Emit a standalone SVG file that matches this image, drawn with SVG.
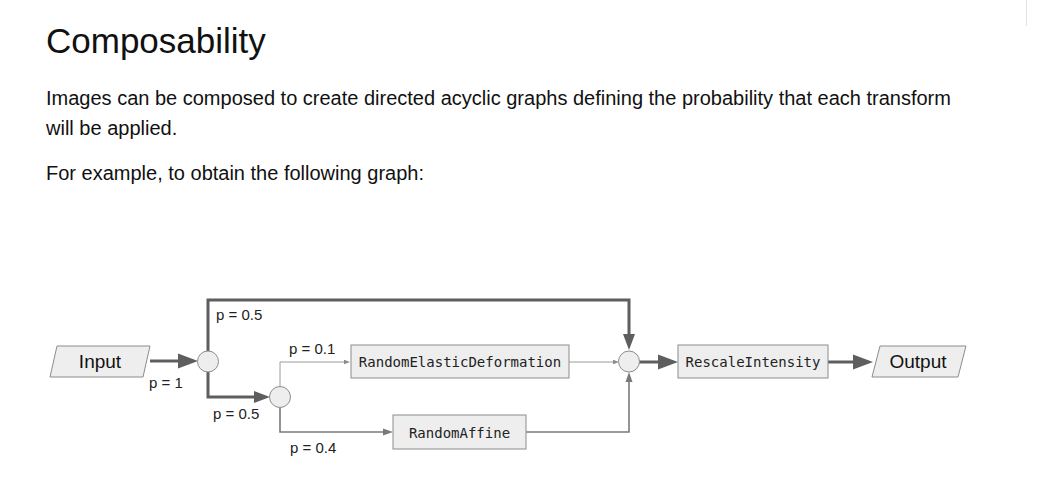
<svg xmlns="http://www.w3.org/2000/svg" width="1046" height="490" viewBox="0 0 1046 490">
<style>
  .h1 { font-family: "Liberation Sans", Arial, sans-serif; font-size: 35px; fill: #111; }
  .para { font-family: "Liberation Sans", Arial, sans-serif; font-size: 20px; fill: #111; }
  .lbl { font-family: "Liberation Sans", Arial, sans-serif; font-size: 15px; fill: #222; }
  .io { font-family: "Liberation Sans", Arial, sans-serif; font-size: 19px; fill: #111; text-anchor: middle; }
  .mono { font-family: "DejaVu Sans Mono", "Liberation Mono", monospace; font-size: 14px; fill: #222; text-anchor: middle; }
  .shape { fill: #eeeeee; stroke: #8c8c8c; stroke-width: 1; }
  .thick { fill: none; stroke: #5e5e5e; stroke-width: 3; }
  .mid { fill: none; stroke: #7a7a7a; stroke-width: 1.6; }
  .thin { fill: none; stroke: #9a9a9a; stroke-width: 1; }
</style>
<defs>
  <marker id="aBig" markerUnits="userSpaceOnUse" markerWidth="20" markerHeight="16" refX="0" refY="8" orient="auto" overflow="visible">
    <path d="M0,0.5 L20,8 L0,15.5 z" fill="#5e5e5e"/>
  </marker>
  <marker id="aMed" markerUnits="userSpaceOnUse" markerWidth="16" markerHeight="13" refX="0" refY="6.5" orient="auto" overflow="visible">
    <path d="M0,0.5 L16,6.5 L0,12.5 z" fill="#5e5e5e"/>
  </marker>
  <marker id="aSmall" markerUnits="userSpaceOnUse" markerWidth="10" markerHeight="8" refX="0" refY="4" orient="auto" overflow="visible">
    <path d="M0,0.5 L10,4 L0,7.5 z" fill="#7a7a7a"/>
  </marker>
  <marker id="aTiny" markerUnits="userSpaceOnUse" markerWidth="6" markerHeight="6" refX="0" refY="3" orient="auto" overflow="visible">
    <path d="M0,0.8 L6,3 L0,5.2 z" fill="#8a8a8a"/>
  </marker>
</defs>
<rect width="1046" height="490" fill="#ffffff"/>
<line x1="1026.5" y1="0" x2="1026.5" y2="26" stroke="#e3e3e3" stroke-width="1"/>

<text class="h1" x="46" y="53">Composability</text>
<text class="para" x="46" y="105">Images can be composed to create directed acyclic graphs defining the probability that each transform</text>
<text class="para" x="46" y="135">will be applied.</text>
<text class="para" x="46" y="180">For example, to obtain the following graph:</text>

<g id="connectors">
  <path class="thick" d="M150,361 H178" marker-end="url(#aBig)"/>
  <path class="thick" d="M208,351 V300 H629 V334" marker-end="url(#aMed)"/>
  <path class="thick" d="M208,372 V397 H254" marker-end="url(#aMed)"/>
  <path class="thin" d="M280,386 V362 H344" marker-end="url(#aTiny)"/>
  <path class="mid" d="M280,408 V432 H383" marker-end="url(#aSmall)"/>
  <path class="thin" d="M569,362 H613" marker-end="url(#aTiny)"/>
  <path class="mid" d="M526,432 H629 V382" marker-end="url(#aSmall)"/>
  <path class="thick" d="M639,362 H658" marker-end="url(#aBig)"/>
  <path class="thick" d="M828,362 H853" marker-end="url(#aBig)"/>
  <text class="lbl" x="216" y="320">p = 0.5</text>
  <text class="lbl" x="149" y="388">p = 1</text>
  <text class="lbl" x="213" y="419">p = 0.5</text>
  <text class="lbl" x="289" y="354">p = 0.1</text>
  <text class="lbl" x="290" y="453">p = 0.4</text>
</g>

<g id="input">
  <polygon class="shape" points="57,346 150,346 143,377 50,377"/>
  <text class="io" x="100" y="368">Input</text>
</g>
<g id="split1">
  <circle class="shape" cx="208" cy="361.5" r="10.5"/>
</g>
<g id="split2">
  <circle class="shape" cx="280" cy="397" r="10.5"/>
</g>
<g id="random-elastic-deformation">
  <rect class="shape" x="351" y="345" width="218" height="33"/>
  <text class="mono" x="460" y="367">RandomElasticDeformation</text>
</g>
<g id="random-affine">
  <rect class="shape" x="393" y="415" width="133" height="34"/>
  <text class="mono" x="459.5" y="437.5">RandomAffine</text>
</g>
<g id="merge">
  <circle class="shape" cx="629" cy="361.5" r="10.5"/>
</g>
<g id="rescale-intensity">
  <rect class="shape" x="678" y="345" width="150" height="33"/>
  <text class="mono" x="753" y="367">RescaleIntensity</text>
</g>
<g id="output">
  <polygon class="shape" points="880,346 966,346 958,377 872,377"/>
  <text class="io" x="918" y="368">Output</text>
</g>
</svg>
